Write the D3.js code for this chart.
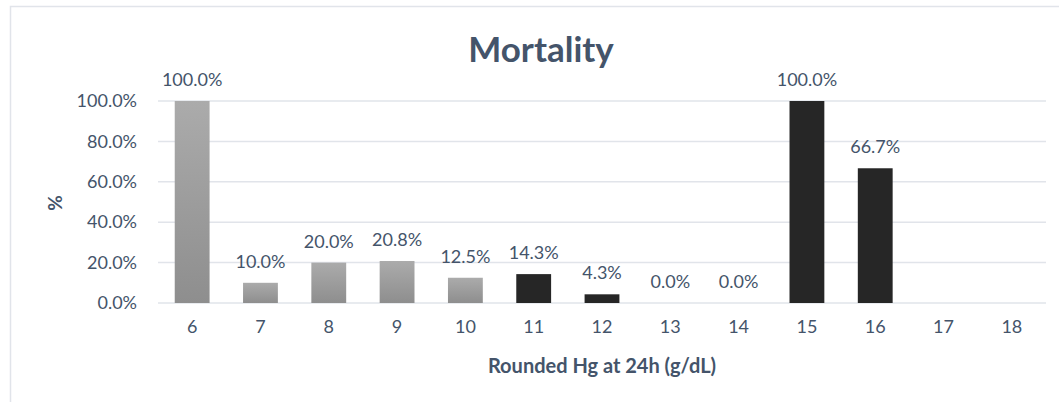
<!DOCTYPE html>
<html><head><meta charset="utf-8">
<script src="https://cdn.jsdelivr.net/npm/d3@7"></script>
<style>body{margin:0;background:#fff;} text{font-family:Lato,"Open Sans",sans-serif;}</style>
</head><body>
<svg id="c" width="1059" height="402"></svg>
<script>
const categories = ["6","7","8","9","10","11","12","13","14","15","16","17","18"];
const values = [100.0, 10.0, 20.0, 20.8, 12.5, 14.3, 4.3, 0.0, 0.0, 100.0, 66.7, null, null];
const groups = ["light","light","light","light","light","dark","dark","dark","dark","dark","dark","dark","dark"];
const yTicks = [0, 20, 40, 60, 80, 100];

const svg = d3.select("#c");
const textColor = "#44546A";
const m = {left:158, right:1046, top:101, bottom:303};

const defs = svg.append("defs");
const g = defs.append("linearGradient").attr("id","lg").attr("x1",0).attr("y1",0).attr("x2",0).attr("y2",1);
g.append("stop").attr("offset","0%").attr("stop-color","#ababab");
g.append("stop").attr("offset","100%").attr("stop-color","#8e8e8e");

svg.append("rect").attr("x",10.5).attr("y",6.5).attr("width",1060).attr("height",420)
  .attr("fill","none").attr("stroke","#e1e4ea").attr("stroke-width",1.5);

const x = d3.scaleBand().domain(categories).range([m.left, m.right]).paddingInner(0.49).paddingOuter(0.245);
const y = d3.scaleLinear().domain([0,100]).range([m.bottom, m.top]);

// gridlines
svg.append("g").selectAll("line").data(yTicks).join("line")
  .attr("x1", m.left).attr("x2", m.right)
  .attr("y1", d=>y(d)).attr("y2", d=>y(d))
  .attr("stroke","#e1e4ea").attr("stroke-width",1.5);

// y axis
const yAxis = svg.append("g").attr("transform",`translate(${m.left},0)`)
  .call(d3.axisLeft(y).tickValues(yTicks).tickSize(0).tickPadding(21).tickFormat(d=>d.toFixed(1)+"%"));
yAxis.select(".domain").remove();
yAxis.selectAll("text").attr("fill",textColor).style("font-size","18px").style("font-family","Lato");

// x axis
const xAxis = svg.append("g").attr("transform",`translate(0,${m.bottom})`)
  .call(d3.axisBottom(x).tickSize(0).tickPadding(17));
xAxis.select(".domain").remove();
xAxis.selectAll("text").attr("fill",textColor).style("font-size","18px").style("font-family","Lato");

const data = categories.map((c,i)=>({c, v:values[i], grp:groups[i]})).filter(d=>d.v!==null);

svg.append("g").selectAll("rect").data(data).join("rect")
  .attr("x", d=>x(d.c)).attr("width", x.bandwidth())
  .attr("y", d=>y(d.v)).attr("height", d=>y(0)-y(d.v))
  .attr("fill", d=>d.grp==="light" ? "url(#lg)" : "#262626");

svg.append("g").selectAll("text").data(data).join("text")
  .attr("x", d=>x(d.c)+x.bandwidth()/2).attr("y", d=>y(d.v)-15)
  .attr("text-anchor","middle").attr("fill",textColor).style("font-size","18px")
  .text(d=>d.v.toFixed(1)+"%");

svg.append("text").attr("x",541).attr("y",62).attr("text-anchor","middle")
  .attr("fill",textColor).style("font-size","35px").style("font-weight","bold").text("Mortality");

svg.append("text").attr("transform","translate(62,203) rotate(-90)").attr("text-anchor","middle")
  .attr("fill",textColor).style("font-size","19px").style("font-weight","bold").text("%");

svg.append("text").attr("x",602).attr("y",373).attr("text-anchor","middle")
  .attr("fill",textColor).style("font-size","20px").style("font-weight","bold").text("Rounded Hg at 24h (g/dL)");
</script>
</body></html>
